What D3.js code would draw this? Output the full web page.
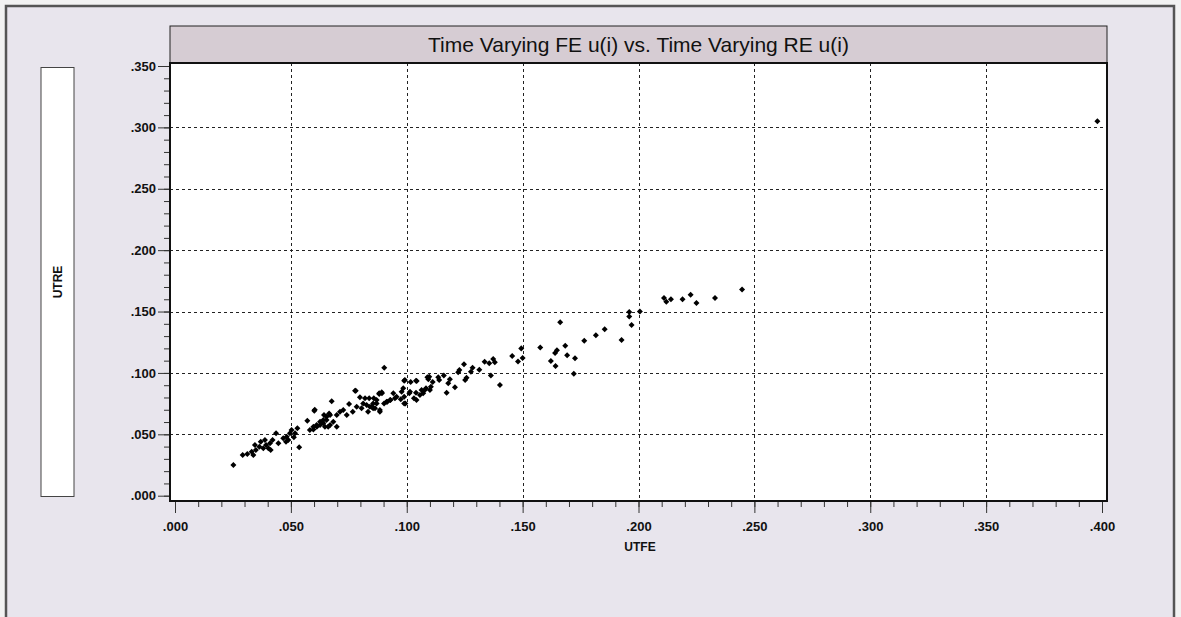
<!DOCTYPE html>
<html lang="en">
    <head>
        <meta charset="utf-8">
        <title>Time Varying FE u(i) vs. Time Varying RE u(i)</title>
        <script src="https://d3js.org/d3.v7.min.js"></script>
        <style type="text/css">
            body { margin: 0; background: #f2f2f2; }
            text { font-family: Arial, "Liberation Sans", sans-serif; }
            .tick text { font-weight: bold; font-size: 13px; fill: #111; }
        </style>
    </head>
    <body>
        <svg id="scatter" width="1181" height="617"></svg>
        <script>
            var svg = d3.select('#scatter');

            //Chart texts
            var chartTitle = 'Time Varying FE u(i) vs. Time Varying RE u(i)';
            var xLabel = 'UTFE';
            var yLabel = 'UTRE';

            //Axis ticks (major every .050, minor every .010)
            var xMajor = [0, 0.05, 0.10, 0.15, 0.20, 0.25, 0.30, 0.35, 0.40];
            var yMajor = [0, 0.05, 0.10, 0.15, 0.20, 0.25, 0.30, 0.35];
            var xGrid = [0.05, 0.10, 0.15, 0.20, 0.25, 0.30, 0.35];
            var yGrid = [0.05, 0.10, 0.15, 0.20, 0.25, 0.30];

            //Points: UTFE (x) and UTRE (y)
            var utfe = [
                0.398,
                0.211, 0.212, 0.214, 0.219, 0.2225, 0.225, 0.233, 0.2447, 0.2006, 0.196,
                0.196, 0.197, 0.1927, 0.1854, 0.1816, 0.1766, 0.1662, 0.1684, 0.1648, 0.164,
                0.1692, 0.1726, 0.1622, 0.1642, 0.1721, 0.1576, 0.1494, 0.150,
                0.0903, 0.1455, 0.148, 0.1402, 0.1363, 0.138, 0.1373, 0.1356, 0.1336, 0.1313,
                0.1284, 0.1277, 0.1258, 0.1247, 0.1227, 0.1222, 0.1252, 0.1208, 0.1186, 0.1179,
                0.1172, 0.116, 0.114, 0.1136, 0.1112, 0.1104, 0.110, 0.1097, 0.1093, 0.1083,
                0.1071, 0.1064, 0.1043, 0.104, 0.1031, 0.1017, 0.1011, 0.0992, 0.0985, 0.0989,
                0.0994, 0.0974, 0.0956, 0.0942, 0.093, 0.0913, 0.0902, 0.0893, 0.0881, 0.0884,
                0.087, 0.0855, 0.0849, 0.0863,
                0.078, 0.0676, 0.0603, 0.0751, 0.0798, 0.082, 0.0838, 0.0858, 0.0881, 0.0892,
                0.0812, 0.0827, 0.0841, 0.0855, 0.0870, 0.0884, 0.0833, 0.0805, 0.0784, 0.0767,
                0.0726, 0.0712, 0.0698, 0.0669, 0.0654, 0.064, 0.0626, 0.0611, 0.0597, 0.0683,
                0.0669, 0.0647, 0.0698, 0.0741, 0.0928, 0.0916, 0.0978, 0.0989, 0.104, 0.1014,
                0.0989, 0.0949, 0.1089, 0.1078, 0.1042, 0.1057,
                0.0252, 0.0292, 0.0312, 0.0338, 0.0331, 0.0349, 0.0345, 0.0364, 0.037, 0.0381,
                0.0393, 0.0403, 0.041, 0.0421, 0.0436, 0.0413, 0.0388, 0.0446, 0.0467, 0.0482,
                0.0496, 0.0503, 0.0518, 0.0513, 0.0528, 0.0536, 0.0479, 0.0489, 0.0571, 0.0601,
                0.0582, 0.0597, 0.0612, 0.0626, 0.0640, 0.0654, 0.0643, 0.0665, 0.0661, 0.0777
            ];
            var utre = [
                0.305,
                0.161, 0.158, 0.160, 0.160, 0.1637, 0.157, 0.161, 0.168, 0.150, 0.1496,
                0.146, 0.139, 0.1268, 0.1355, 0.1306, 0.1262, 0.1412, 0.1221, 0.1184, 0.1162,
                0.1143, 0.1119, 0.1097, 0.1056, 0.0993, 0.1208, 0.120, 0.1121,
                0.1042, 0.1138, 0.1094, 0.0901, 0.098, 0.1086, 0.1113, 0.1078, 0.1091, 0.1026,
                0.1042, 0.101, 0.0961, 0.107, 0.1024, 0.1005, 0.0942, 0.0883, 0.0948, 0.0915,
                0.0839, 0.098, 0.0942, 0.0964, 0.0926, 0.0888, 0.0861, 0.0969, 0.0948, 0.0875,
                0.0834, 0.0861, 0.0934, 0.0839, 0.0793, 0.0926, 0.0834, 0.0942, 0.0875, 0.0806,
                0.0752, 0.0785, 0.0806, 0.0834, 0.0779, 0.0765, 0.0752, 0.0834, 0.0828, 0.0684,
                0.0779, 0.0752, 0.0725, 0.0712,
                0.0855, 0.0769, 0.070, 0.0747, 0.0801, 0.0793, 0.0793, 0.0793, 0.0834, 0.0842,
                0.0752, 0.0739, 0.0725, 0.0712, 0.0752, 0.0698, 0.0684, 0.0712, 0.0725, 0.0684,
                0.0698, 0.0684, 0.0657, 0.0657, 0.0643, 0.0616, 0.0603, 0.0576, 0.0562, 0.0603,
                0.0576, 0.0562, 0.0562, 0.0657, 0.0779, 0.0765, 0.0847, 0.0936, 0.0936, 0.0847,
                0.0752, 0.0793, 0.0964, 0.0861, 0.0779, 0.082,
                0.025, 0.0331, 0.034, 0.0331, 0.0358, 0.0372, 0.0413, 0.0399, 0.044, 0.0386,
                0.0413, 0.0386, 0.0427, 0.0454, 0.0508, 0.0372, 0.0454, 0.0427, 0.0467, 0.048,
                0.0508, 0.0535, 0.0508, 0.0476, 0.0549, 0.0394, 0.044, 0.0454, 0.0611, 0.0692,
                0.0535, 0.054, 0.0562, 0.0576, 0.0590, 0.0616, 0.0657, 0.0670, 0.0562, 0.0855
            ];

            var points = utfe.map(function(d, i) { return { x: d, y: utre[i] }; });

            //Layout
            var panel = { left: 6, top: 6, right: 1174, bottom: 640 };
            var plot = { left: 170, top: 63, right: 1107, bottom: 501 };
            var titleTop = 26;

            //Scales
            var xScale = d3.scaleLinear().domain([0, 0.40]).range([175, 1102]);
            var yScale = d3.scaleLinear().domain([0, 0.35]).range([495.7, 66]);

            //For converting numbers to ".050" style labels
            var fmt = function(d) { return d3.format('.3f')(d).replace(/^0/, ''); };

            //Panel background and border
            svg.append('rect')
               .attr('x', panel.left).attr('y', panel.top)
               .attr('width', panel.right - panel.left)
               .attr('height', panel.bottom - panel.top)
               .attr('fill', '#e8e5ed')
               .attr('stroke', '#555')
               .attr('stroke-width', 2.5);

            //Left box holding the y label
            svg.append('rect')
               .attr('x', 41).attr('y', 67.5)
               .attr('width', 33).attr('height', 429)
               .attr('fill', '#fff')
               .attr('stroke', '#444')
               .attr('stroke-width', 1);

            svg.append('text')
               .attr('transform', 'translate(62,282) rotate(-90)')
               .attr('text-anchor', 'middle')
               .style('font-size', '12px')
               .style('font-weight', 'bold')
               .attr('fill', '#111')
               .text(yLabel);

            //Title bar
            svg.append('rect')
               .attr('x', plot.left).attr('y', titleTop)
               .attr('width', plot.right - plot.left)
               .attr('height', plot.top - titleTop)
               .attr('fill', '#d6ccd3')
               .attr('stroke', '#222')
               .attr('stroke-width', 1);

            svg.append('text')
               .attr('x', (plot.left + plot.right) / 2)
               .attr('y', 52)
               .attr('text-anchor', 'middle')
               .style('font-size', '21px')
               .attr('fill', '#111')
               .text(chartTitle);

            //Plot area
            svg.append('rect')
               .attr('x', plot.left).attr('y', plot.top)
               .attr('width', plot.right - plot.left)
               .attr('height', plot.bottom - plot.top)
               .attr('fill', '#fff');

            //Generate guide lines
            svg.selectAll('line.vgrid')
               .data(xGrid)
               .enter()
               .append('line')
               .attr('class', 'vgrid')
               .attr('x1', function(d) { return Math.round(xScale(d)) + 0.5; })
               .attr('x2', function(d) { return Math.round(xScale(d)) + 0.5; })
               .attr('y1', plot.top)
               .attr('y2', plot.bottom)
               .attr('stroke', '#222')
               .attr('stroke-dasharray', '3,3');

            svg.selectAll('line.hgrid')
               .data(yGrid)
               .enter()
               .append('line')
               .attr('class', 'hgrid')
               .attr('x1', plot.left)
               .attr('x2', plot.right)
               .attr('y1', function(d) { return Math.round(yScale(d)) + 0.5; })
               .attr('y2', function(d) { return Math.round(yScale(d)) + 0.5; })
               .attr('stroke', '#222')
               .attr('stroke-dasharray', '3,3');

            //Points (square turned 45 degrees, so a plain diamond)
            svg.selectAll('path.pt')
               .data(points)
               .enter()
               .append('path')
               .attr('class', 'pt')
               .attr('d', d3.symbol().type(d3.symbolSquare).size(18))
               .attr('transform', function(d) {
                    return 'translate(' + xScale(d.x) + ',' + yScale(d.y) + ') rotate(45)';
               })
               .attr('fill', '#000');

            //Frame lines (right, top, left axis, bottom axis)
            svg.append('path')
               .attr('d', 'M' + plot.left + ',' + plot.top + 'H' + plot.right +
                          'V' + plot.bottom + 'H' + plot.left + 'Z')
               .attr('fill', 'none')
               .attr('stroke', '#111')
               .attr('stroke-width', 2);

            //Create X axis (minor then major)
            var xMinor = d3.range(0, 0.4001, 0.01);
            svg.append('g')
               .attr('class', 'axis')
               .attr('transform', 'translate(0,' + (plot.bottom + 1) + ')')
               .call(d3.axisBottom(xScale).tickValues(xMinor).tickSize(5).tickFormat(''))
               .call(function(g) { g.select('.domain').remove(); });

            svg.append('g')
               .attr('class', 'axis')
               .attr('transform', 'translate(0,' + (plot.bottom + 1) + ')')
               .call(d3.axisBottom(xScale).tickValues(xMajor).tickSize(11).tickPadding(9).tickFormat(fmt))
               .call(function(g) { g.select('.domain').remove(); });

            //Create Y axis (minor then major)
            var yMinor = d3.range(0, 0.3501, 0.01);
            svg.append('g')
               .attr('class', 'axis')
               .attr('transform', 'translate(' + (plot.left - 1) + ',0)')
               .call(d3.axisLeft(yScale).tickValues(yMinor).tickSize(5).tickFormat(''))
               .call(function(g) { g.select('.domain').remove(); });

            svg.append('g')
               .attr('class', 'axis')
               .attr('transform', 'translate(' + (plot.left - 1) + ',0)')
               .call(d3.axisLeft(yScale).tickValues(yMajor).tickSize(11).tickPadding(2).tickFormat(fmt))
               .call(function(g) { g.select('.domain').remove(); });

            svg.selectAll('.axis .tick line').attr('stroke', '#333');

            //X label
            svg.append('text')
               .attr('x', 640)
               .attr('y', 551)
               .attr('text-anchor', 'middle')
               .style('font-size', '12px')
               .style('font-weight', 'bold')
               .attr('fill', '#111')
               .text(xLabel);
        </script>
    </body>
</html>
